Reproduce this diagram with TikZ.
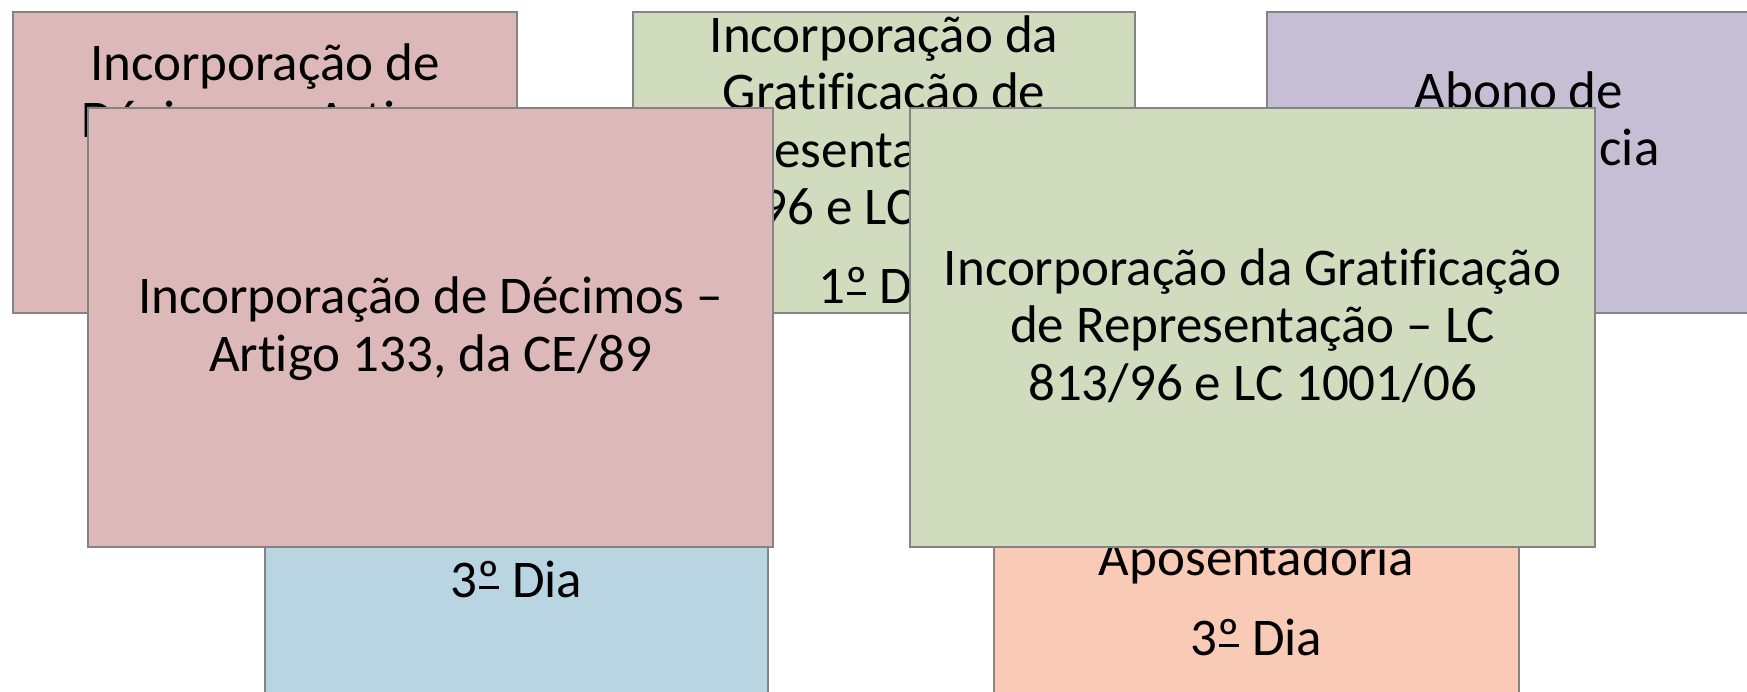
\documentclass[tikz,border=0pt]{standalone}
\usepackage{fontspec}
\newfontfamily\carl[Ligatures={NoCommon}]{Carlito}
\newcommand{\ordmu}{\setbox0\hbox{º}\rlap{\hspace{0.06\wd0}\raisebox{8pt}{\rule{0.88\wd0}{2.7pt}}}º}
\definecolor{pinkbox}{HTML}{DDB8B9}
\definecolor{greenbox}{HTML}{D1DBBD}
\definecolor{purplebox}{HTML}{C5BED4}
\definecolor{bluebox}{HTML}{B9D5E1}
\definecolor{orangebox}{HTML}{F9CBB6}
\definecolor{edgegray}{HTML}{848484}
\tikzset{
  x=1pt, y=-1pt,
  box/.style={rectangle, draw=edgegray, line width=1.3pt, anchor=north west, inner sep=0pt, outer sep=0pt},
  txt/.style={anchor=base, inner sep=0pt, font=\carl\fontsize{53}{58}\selectfont, text=black},
}
\begin{document}
\begin{tikzpicture}
\useasboundingbox (0,0) rectangle (1747,691);
\clip (0,0) rectangle (1747,691);
% back row
\node[box, fill=pinkbox, minimum width=504pt, minimum height=301pt] (bpink) at (13,12) {};
\node[txt] (bpink1) at (265,80) {Incorporação de};
\node[txt] (bpink2) at (265,137.5) {Décimos – Artigo};
\node[box, fill=greenbox, minimum width=502pt, minimum height=301pt] (bgreen) at (633,12) {};
\node[txt] (bgreen1) at (884,52) {Incorporação da};
\node[txt] (bgreen2) at (884,109.5) {Gratificação de};
\node[txt] (bgreen3) at (884,167) {Representação – LC};
\node[txt] (bgreen4) at (884,224.5) {813/96 e LC 1001/06};
\node[txt] (bgreen5) at (884,303) {1\ordmu{} Dia};
\node[box, fill=purplebox, minimum width=504pt, minimum height=301pt] (bpurple) at (1267,12) {};
\node[txt] (bpurple1) at (1519,108) {Abono de};
\node[txt] (bpurple2) at (1519,165.5) {Permanência};
% lower row
\node[box, fill=bluebox, minimum width=503pt, minimum height=400pt] (blue) at (265,400) {};
\node[txt] (blue1) at (516.5,597) {3\ordmu{} Dia};
\node[box, fill=orangebox, minimum width=525pt, minimum height=400pt] (orange) at (994,400) {};
\node[txt] (orange1) at (1256.5,575) {Aposentadoria};
\node[txt] (orange2) at (1256.5,655) {3\ordmu{} Dia};
% front row
\node[box, fill=pinkbox, minimum width=685pt, minimum height=439pt] (fpink) at (88,108) {};
\node[txt] (fpink1) at (430.5,313) {Incorporação de Décimos –};
\node[txt] (fpink2) at (430.5,371) {Artigo 133, da CE/89};
\node[box, fill=greenbox, minimum width=685pt, minimum height=439pt] (fgreen) at (910,108) {};
\node[txt] (fgreen1) at (1252.5,285) {Incorporação da Gratificação};
\node[txt] (fgreen2) at (1252.5,342.5) {de Representação – LC};
\node[txt] (fgreen3) at (1252.5,400) {813/96 e LC 1001/06};
\end{tikzpicture}
\end{document}
